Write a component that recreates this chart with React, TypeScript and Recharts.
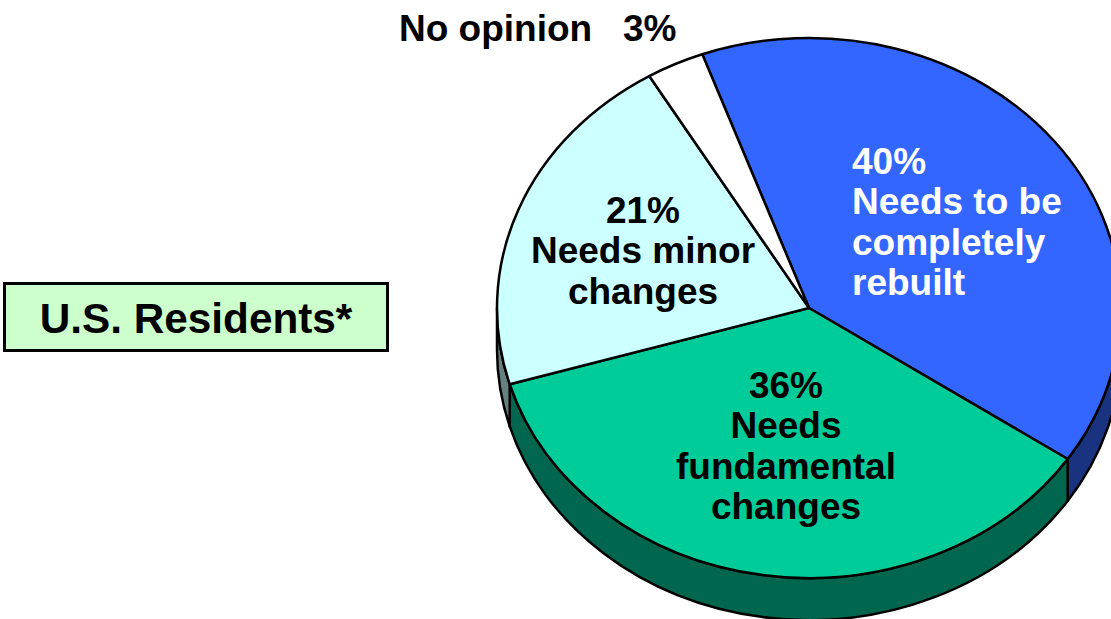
import React from "react";
import { PieChart, Pie, Cell } from "recharts";

const categories = ["Needs to be completely rebuilt", "Needs fundamental changes", "Needs minor changes", "No opinion"];
const shares = [40, 36, 21, 3];
const labelLines = [
  ["40%", "Needs to be", "completely", "rebuilt"],
  ["36%", "Needs", "fundamental", "changes"],
  ["21%", "Needs minor", "changes"],
  ["No opinion   3%"],
];
const faceColors = ["#3366FF", "#00CC99", "#CCFFFF", "#FFFFFF"];
const wallColors = ["#1A3380", "#00664D", "#668080", "#808080"];
const labelColors = ["#FFFFFF", "#000000", "#000000", "#000000"];
const boxTitle = "U.S. Residents*";

const W = 1111;
const H = 619;
const CX = 809;
const CY = 308;
const RX = 312;
const RY = 270;
const DEPTH = 42;
const FONT = "'Liberation Sans', Arial, sans-serif";

const labelAnchors = [
  { x: 852, y: 174, anchor: "start" },
  { x: 786, y: 398, anchor: "middle" },
  { x: 643, y: 223, anchor: "middle" },
  { x: 399, y: 41, anchor: "start" },
];

const table = categories.map((name, i) => ({ name, value: shares[i] }));

const pt = (cx: number, cy: number, a: number) => {
  const r = (a * Math.PI) / 180;
  return [cx + RX * Math.cos(r), cy - RY * Math.sin(r)];
};

function EllipticSlice(props: any) {
  const { cx, cy, startAngle, endAngle, index } = props;
  const [sx, sy] = pt(cx, cy, startAngle);
  const [ex, ey] = pt(cx, cy, endAngle);
  const large = Math.abs(startAngle - endAngle) > 180 ? 1 : 0;
  const top = `M${cx},${cy} L${sx},${sy} A${RX},${RY} 0 ${large} 1 ${ex},${ey} Z`;

  // visible front wall: the part of the rim in the lower half of the ellipse
  const a1 = Math.min(startAngle, 0);
  const a2 = Math.max(endAngle, -180);
  let wall = "";
  if (a1 > a2) {
    const [x1, y1] = pt(cx, cy, a1);
    const [x2, y2] = pt(cx, cy, a2);
    wall = `M${x1},${y1} A${RX},${RY} 0 0 1 ${x2},${y2} L${x2},${y2 + DEPTH} A${RX},${RY} 0 0 0 ${x1},${y1 + DEPTH} Z`;
  }
  return (
    <g>
      {wall && <path d={wall} fill={wallColors[index]} stroke="#000" strokeWidth={2.5} strokeLinejoin="round" />}
      <path d={top} fill={faceColors[index]} stroke="#000" strokeWidth={2.5} strokeLinejoin="round" />
    </g>
  );
}

function SliceLabel(props: any) {
  const { index } = props;
  const a = labelAnchors[index];
  return (
    <text
      x={a.x}
      y={a.y}
      textAnchor={a.anchor as any}
      fill={labelColors[index]}
      fontFamily={FONT}
      fontWeight="bold"
      fontSize={37}
      style={{ whiteSpace: "pre" }}
    >
      {labelLines[index].map((line, i) => (
        <tspan key={i} x={a.x} dy={i === 0 ? 0 : 40.4}>
          {line}
        </tspan>
      ))}
    </text>
  );
}

export default function App() {
  return (
    <div style={{ position: "absolute", left: 0, top: 0, width: W, height: H, overflow: "hidden", background: "#fff" }}>
      <div
        style={{
          position: "absolute",
          left: 3,
          top: 282,
          width: 386,
          height: 70,
          boxSizing: "border-box",
          border: "3px solid #000",
          background: "#CCFFCC",
          color: "#000",
          fontFamily: FONT,
          fontWeight: "bold",
          fontSize: 42.3,
          lineHeight: "68px",
          textAlign: "center",
          whiteSpace: "nowrap",
        }}
      >
        {boxTitle}
      </div>
      <div style={{ position: "absolute", left: 0, top: 0 }}>
        <PieChart width={W} height={H} margin={{ top: 0, right: 0, bottom: 0, left: 0 }}>
          <Pie
            data={table}
            dataKey="value"
            nameKey="name"
            cx={CX}
            cy={CY}
            innerRadius={0}
            outerRadius={RX}
            startAngle={110}
            endAngle={-250}
            stroke="#000"
            isAnimationActive={false}
            shape={EllipticSlice}
            label={SliceLabel}
            labelLine={false}
          >
            {table.map((d, i) => (
              <Cell key={d.name} fill={faceColors[i]} />
            ))}
          </Pie>
        </PieChart>
      </div>
    </div>
  );
}
